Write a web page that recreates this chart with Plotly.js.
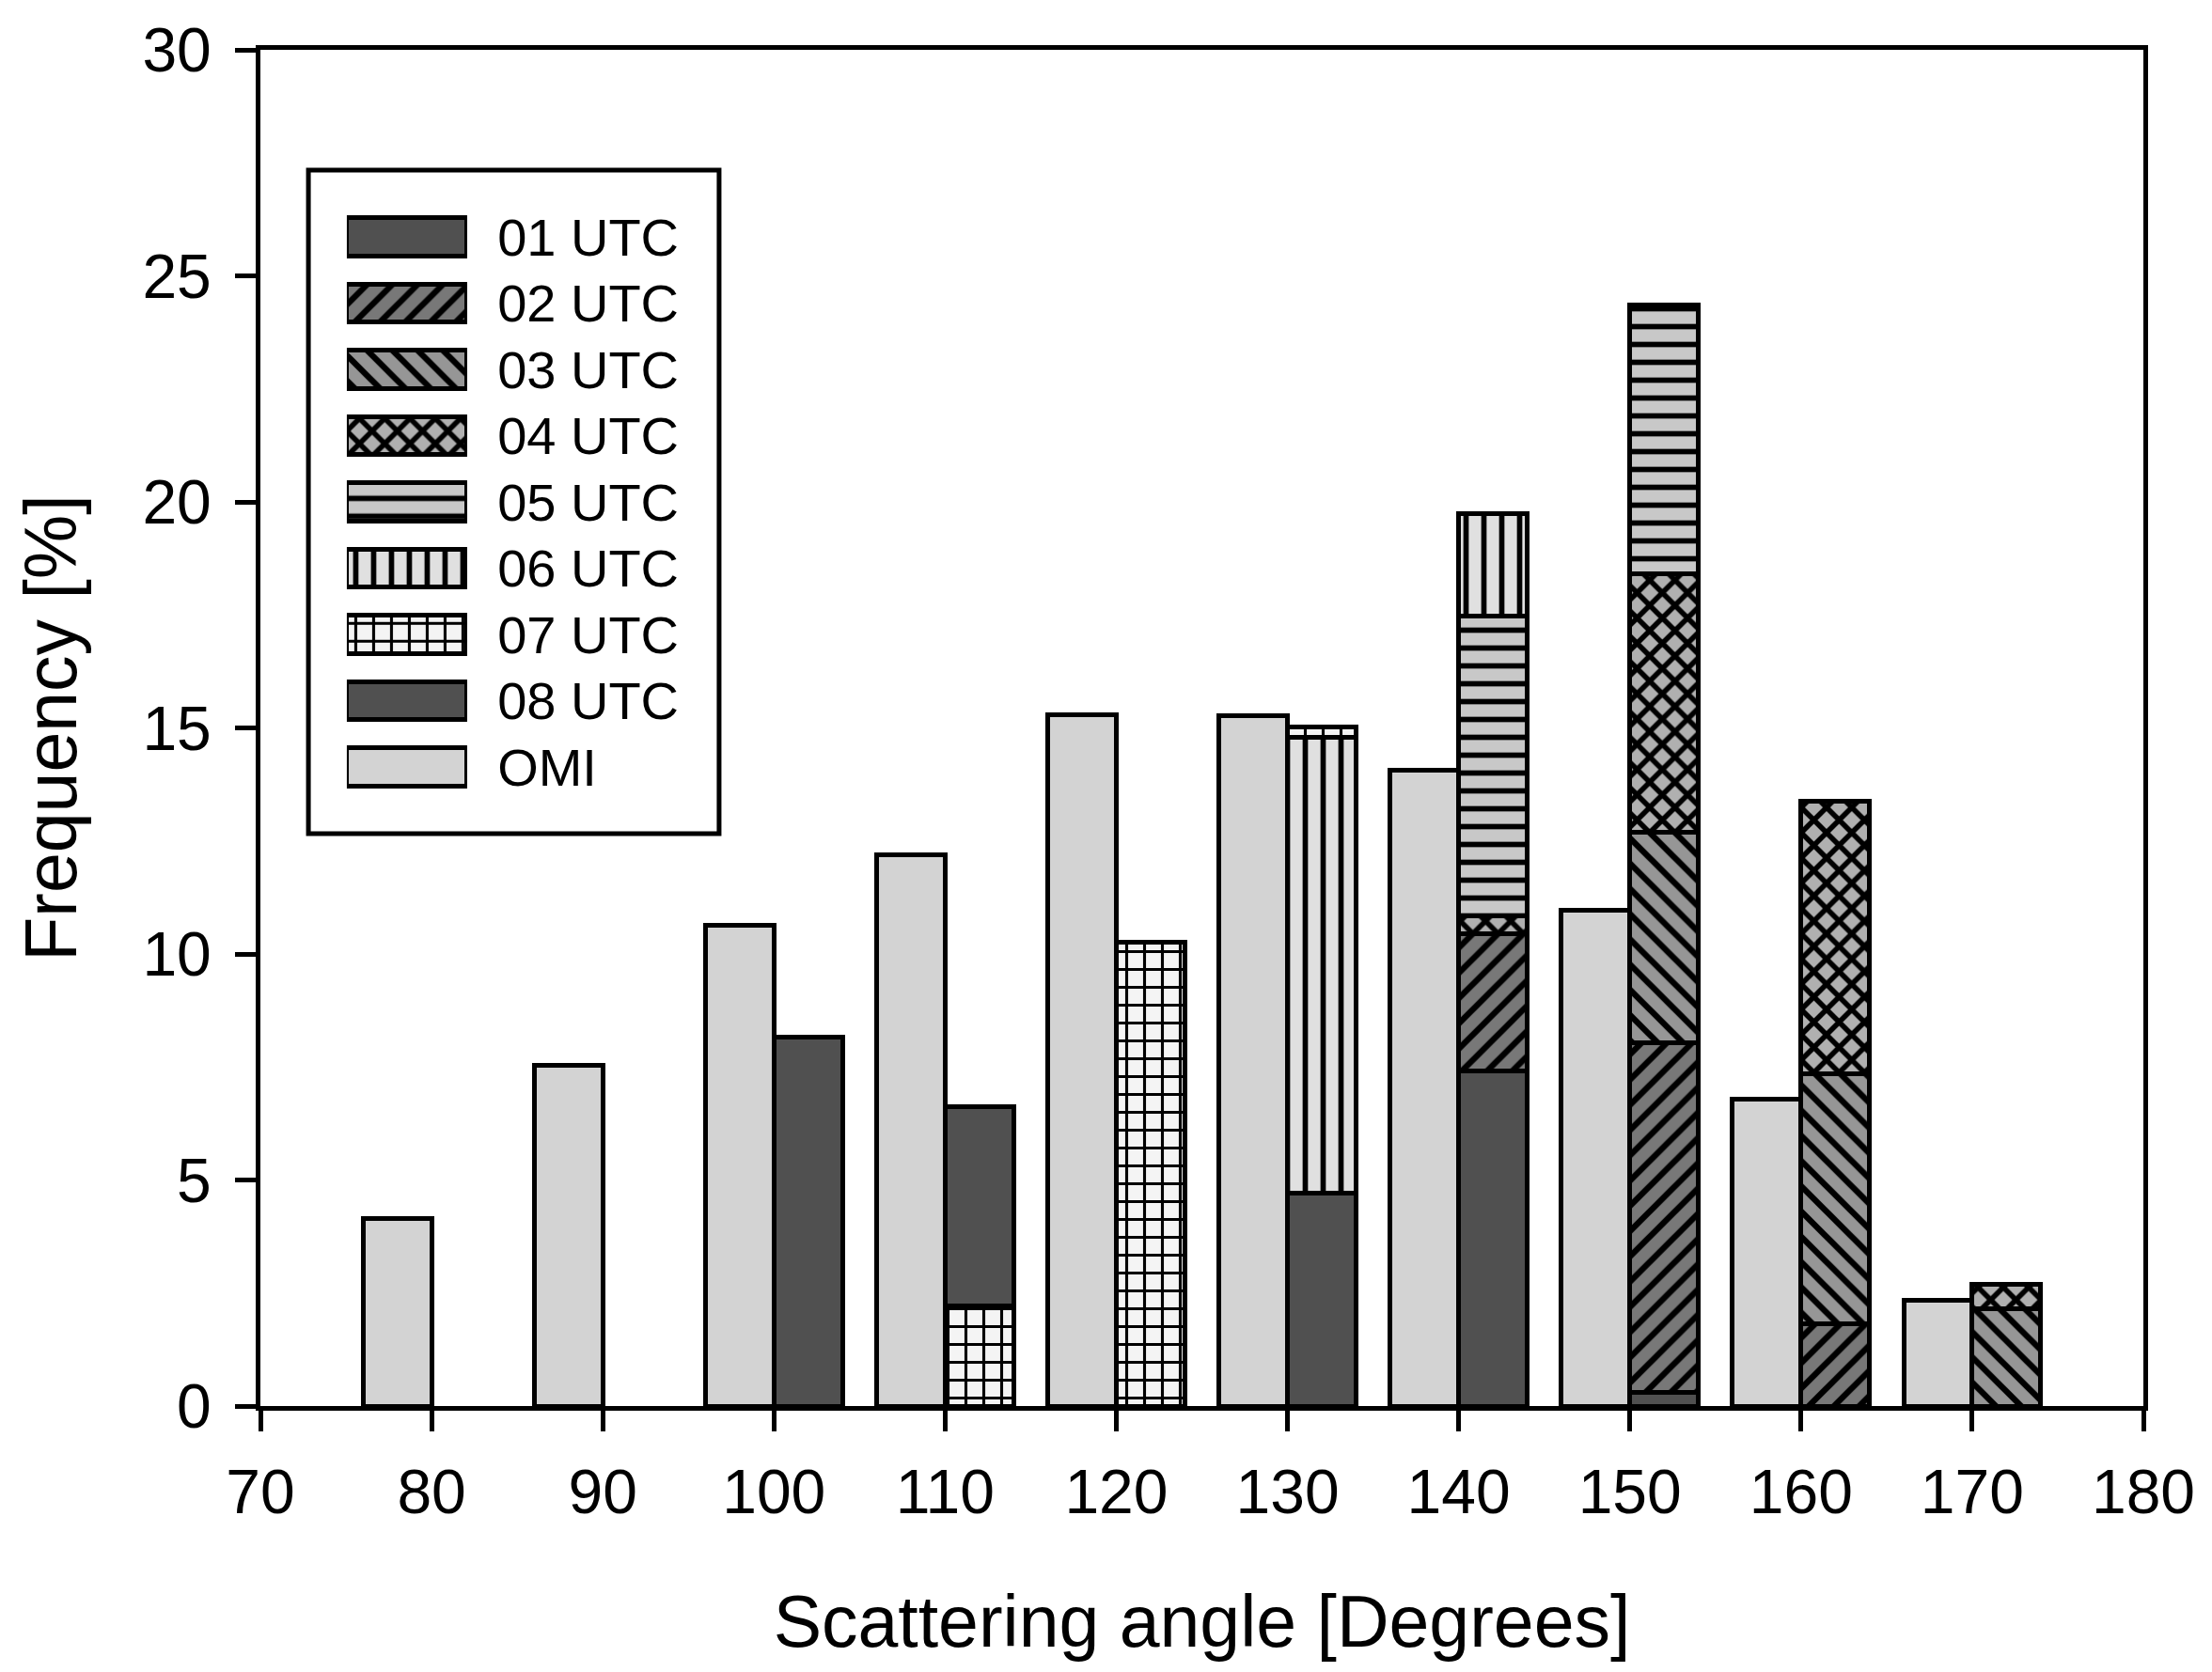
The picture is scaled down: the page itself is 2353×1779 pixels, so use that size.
<!DOCTYPE html>
<html>
<head>
<meta charset="utf-8">
<script src="https://cdn.plot.ly/plotly-3.0.1.min.js"></script>
<style>
  html, body { margin: 0; padding: 0; background: #fff; }
  #chart_div { width: 2353px; height: 1779px; }
</style>
</head>
<body>
<div id="chart_div"></div>
<script>
// scattering angle bins (degrees), one group of bars per bin
var angleBins = [80, 90, 100, 110, 120, 130, 140, 150, 160, 170];

// OMI frequency [%]
var omiFreq = [4.15, 7.53, 10.63, 12.19, 15.30, 15.27, 14.06, 10.97, 6.78, 2.34];

// frequency [%] per hour (stacked), null = no bar
var utc01 = [null, null, null, null, null, 4.70, 7.41, 0.31, null, null];
var utc02 = [null, null, null, null, null, null, 3.03, 7.72, 1.81, null];
var utc03 = [null, null, null, null, null, null, null, 4.66, 5.53, 2.16];
var utc04 = [null, null, null, null, null, null, 0.40, 5.72, 6.03, 0.53];
var utc05 = [null, null, null, null, null, null, 6.63, 5.94, null, null];
var utc06 = [null, null, null, null, null, 10.10, 2.28, null, null, null];
var utc07 = [null, null, null, 2.22, 10.25, 0.23, null, null, null, null];
var utc08 = [null, null, 8.17, 4.41, null, null, null, null, null, null];

var seriesNames = ['01 UTC', '02 UTC', '03 UTC', '04 UTC', '05 UTC', '06 UTC', '07 UTC', '08 UTC', 'OMI'];

var FONT = 'Liberation Sans, Arial, Helvetica, sans-serif';
var LW = 5;

// fill + hatch for every series, same order as seriesNames
var styles = [
  {bg: '#505050', shape: '', sol: 0.3},
  {bg: '#787878', shape: '/', sol: 0.34},
  {bg: '#969696', shape: '\\', sol: 0.34},
  {bg: '#b0b0b0', shape: 'x', sol: 0.5},
  {bg: '#c8c8c8', shape: '-', sol: 0.3},
  {bg: '#e0e0e0', shape: '|', sol: 0.3},
  {bg: '#f4f4f4', shape: '+', sol: 0.3},
  {bg: '#505050', shape: '', sol: 0.3},
  {bg: '#d3d3d3', shape: '', sol: 0.3}
];

function makeMarker(st) {
  return {
    color: st.bg,
    line: {color: '#000', width: LW},
    pattern: {shape: st.shape, bgcolor: st.bg, fgcolor: '#000', fgopacity: 1,
              size: 19, solidity: st.sol, fillmode: 'replace'}
  };
}

var hourSeries = [utc01, utc02, utc03, utc04, utc05, utc06, utc07, utc08];

var data = [];

// OMI bars sit left of the bin value, hour stacks right of it
data.push({
  type: 'bar',
  x: angleBins.map(function (b) { return b - 2; }),
  y: omiFreq,
  width: 4,
  name: 'OMI',
  marker: makeMarker(styles[8]),
  showlegend: false,
  hoverinfo: 'skip'
});

for (var i = 0; i < hourSeries.length; i++) {
  data.push({
    type: 'bar',
    x: angleBins.map(function (b) { return b + 2; }),
    y: hourSeries[i],
    width: 4,
    name: seriesNames[i],
    marker: makeMarker(styles[i]),
    showlegend: false,
    hoverinfo: 'skip'
  });
}

// legend drawn as a small horizontal-bar subplot so the swatches can be large
for (var k = 0; k < seriesNames.length; k++) {
  data.push({
    type: 'bar',
    orientation: 'h',
    x: [1],
    y: [seriesNames[k]],
    xaxis: 'x2',
    yaxis: 'y2',
    width: 0.57,
    showlegend: false,
    hoverinfo: 'skip',
    marker: makeMarker(styles[k])
  });
}

var layout = {
  width: 2353,
  height: 1779,
  margin: {l: 277, r: 73, t: 53, b: 283},
  paper_bgcolor: '#fff',
  plot_bgcolor: '#fff',
  barmode: 'stack',
  showlegend: false,
  font: {family: FONT, color: '#000', size: 66},
  xaxis: {
    range: [70, 180],
    dtick: 10,
    tick0: 70,
    ticks: 'outside',
    ticklen: 22,
    tickwidth: LW,
    tickcolor: '#000',
    showline: true,
    linewidth: LW,
    linecolor: '#000',
    mirror: true,
    showgrid: false,
    zeroline: false,
    ticklabelstandoff: 8,
    tickfont: {family: FONT, size: 66, color: '#000'},
    title: {text: 'Scattering angle [Degrees]', font: {family: FONT, size: 77, color: '#000'}, standoff: 76}
  },
  yaxis: {
    range: [0, 30],
    dtick: 5,
    ticks: 'outside',
    ticklen: 22,
    tickwidth: LW,
    tickcolor: '#000',
    showline: true,
    linewidth: LW,
    linecolor: '#000',
    mirror: true,
    showgrid: false,
    zeroline: false,
    ticklabelstandoff: 12,
    tickfont: {family: FONT, size: 66, color: '#000'},
    title: {text: 'Frequency [%]', font: {family: FONT, size: 77, color: '#000'}, standoff: 46}
  },
  xaxis2: {
    domain: [0.0459, 0.1098],
    anchor: 'y2',
    range: [0, 1],
    visible: false,
    fixedrange: true
  },
  yaxis2: {
    domain: [0.4468, 0.8865],
    anchor: 'x2',
    type: 'category',
    autorange: 'reversed',
    side: 'right',
    showline: false,
    showgrid: false,
    zeroline: false,
    ticks: 'outside',
    ticklen: 20,
    tickcolor: 'rgba(0,0,0,0)',
    tickfont: {family: FONT, size: 56, color: '#000'},
    fixedrange: true
  },
  shapes: [{
    type: 'rect', xref: 'paper', yref: 'paper',
    x0: 0.0255, x1: 0.2436, y0: 0.422, y1: 0.9113,
    line: {color: '#000', width: LW},
    fillcolor: 'rgba(0,0,0,0)',
    layer: 'above'
  }]
};

Plotly.newPlot('chart_div', data, layout, {staticPlot: true, displayModeBar: false});
</script>
</body>
</html>
